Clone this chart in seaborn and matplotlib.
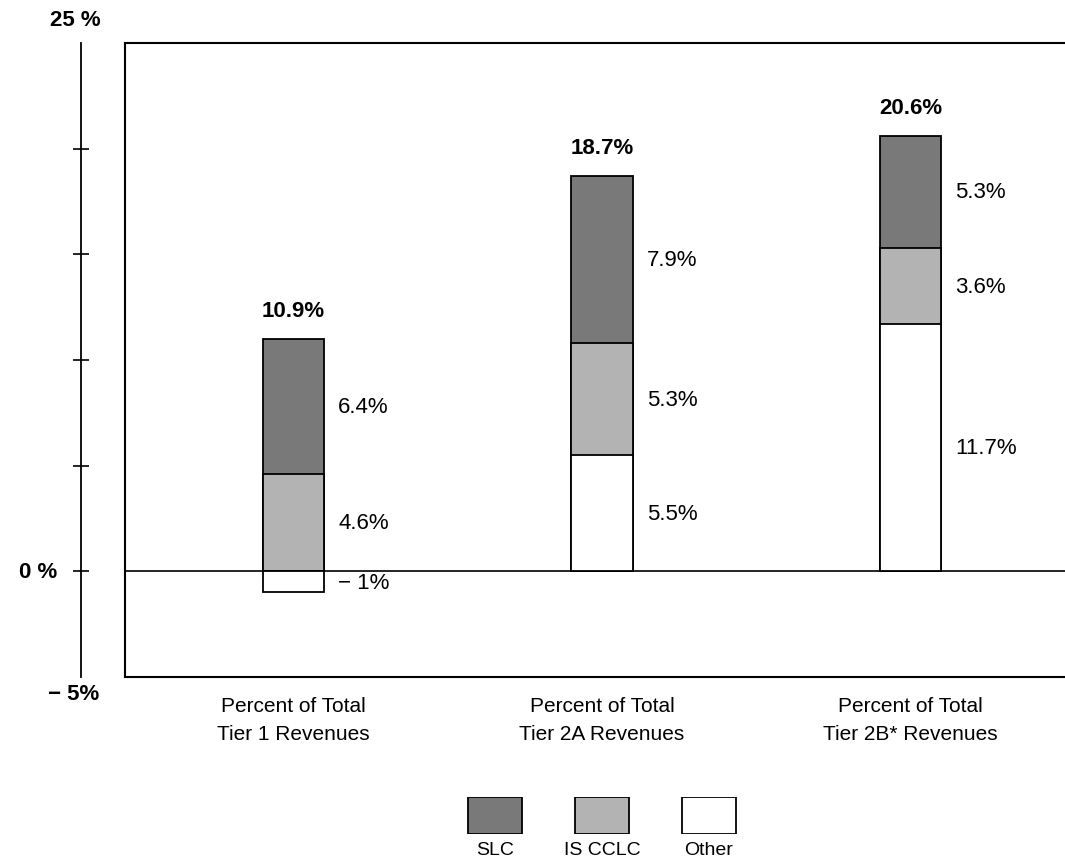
import matplotlib
matplotlib.use("Agg")
import matplotlib.pyplot as plt
import seaborn as sns

# data
tiers = ["Percent of Total\nTier 1 Revenues",
         "Percent of Total\nTier 2A Revenues",
         "Percent of Total\nTier 2B* Revenues"]
series = ["SLC", "IS CCLC", "Other"]
slc = [6.4, 7.9, 5.3]
is_cclc = [4.6, 5.3, 3.6]
other = [-1.0, 5.5, 11.7]
slc_labels = ["6.4%", "7.9%", "5.3%"]
is_labels = ["4.6%", "5.3%", "3.6%"]
other_labels = ["\u2212 1%", "5.5%", "11.7%"]
total_labels = ["10.9%", "18.7%", "20.6%"]
colors = ["#797979", "#b3b3b3", "#ffffff"]

sns.set_style("white")
plt.rcParams["font.family"] = ["Liberation Sans", "DejaVu Sans"]
plt.rcParams["text.color"] = "black"
plt.rcParams["xtick.color"] = "black"
plt.rcParams["xtick.labelcolor"] = "black"

W, H = 1065, 862
fig = plt.figure(figsize=(W / 100, H / 100), dpi=100)
bottom = 1 - 678 / H
height = (678 - 44) / H
ax = fig.add_axes([125 / W, bottom, 1 - 125 / W, height])

# stacked bars: positive parts stack on top of max(other, 0)
base = [max(o, 0) for o in other]
is_top = [b + v for b, v in zip(base, is_cclc)]
slc_top = [t + v for t, v in zip(is_top, slc)]

bar_kw = dict(width=0.2, edgecolor="black", linewidth=1.3, ax=ax, zorder=3)
sns.barplot(x=tiers, y=slc_top, color=colors[0], **bar_kw)
sns.barplot(x=tiers, y=is_top, color=colors[1], **bar_kw)
sns.barplot(x=tiers, y=other, color=colors[2], **bar_kw)

ax.axhline(0, color="black", lw=1.2, zorder=2)

# segment value labels, centred in each segment
for i in range(len(tiers)):
    xt = i + 0.145
    ax.text(xt, (base[i] + is_top[i]) / 2, is_labels[i],
            va="center", ha="left", fontsize=16, zorder=4)
    ax.text(xt, (is_top[i] + slc_top[i]) / 2, slc_labels[i],
            va="center", ha="left", fontsize=16, zorder=4)
    ax.text(xt, other[i] / 2 - (0.05 if other[i] < 0 else 0), other_labels[i],
            va="center", ha="left", fontsize=16, zorder=4)
    ax.annotate(total_labels[i], xy=(i, slc_top[i]), xytext=(0, 13),
                textcoords="offset points", ha="center", va="bottom",
                fontsize=16, fontweight="bold")

ax.set_xlim(-0.546, 2.501)
ax.set_ylim(-5, 25)
ax.set_yticks([])
ax.set_xlabel("")
ax.set_ylabel("")
ax.set_xticks(range(len(tiers)))
ax.set_xticklabels(tiers, fontsize=15, linespacing=1.55)
ax.tick_params(axis="x", length=0, pad=14)
for s in ["top", "left", "bottom"]:
    ax.spines[s].set_linewidth(1.5)
    ax.spines[s].set_color("black")
ax.spines["right"].set_visible(False)

# separate value axis on the left
ax2 = fig.add_axes([81 / W, bottom, 0.0005, height])
ax2.set_ylim(-5, 25)
ax2.patch.set_visible(False)
for s in ["top", "right", "bottom"]:
    ax2.spines[s].set_visible(False)
ax2.spines["left"].set_linewidth(1.3)
ax2.spines["left"].set_color("black")
ax2.set_xticks([])
ax2.set_yticks([0, 5, 10, 15, 20])
ax2.set_yticklabels([])
ax2.tick_params(axis="y", left=True, direction="inout", length=11, width=1.2, color="black")
tr = ax2.get_yaxis_transform()
ax2.annotate("25 %", xy=(0, 25), xycoords=tr, xytext=(-4, 17), textcoords="offset points",
             ha="center", va="center", fontsize=16, fontweight="bold")
ax2.annotate("0 %", xy=(0, 0), xycoords=tr, xytext=(-17, 0), textcoords="offset points",
             ha="right", va="center", fontsize=16, fontweight="bold")
ax2.annotate("\u2212 5%", xy=(0, -5), xycoords=tr, xytext=(-5, -12), textcoords="offset points",
             ha="center", va="center", fontsize=16, fontweight="bold")

# legend drawn as a small bar strip with labels underneath
lax = fig.add_axes([441.5 / W, 1 - 835 / H, 321 / W, 37 / H])
sns.barplot(x=series, y=[1, 1, 1], hue=series, palette=colors, legend=False,
            width=0.51, edgecolor="black", linewidth=1.3, ax=lax)
lax.set_ylim(0, 1)
lax.set_xlim(-0.5, 2.5)
lax.set_yticks([])
lax.set_xlabel("")
lax.set_ylabel("")
lax.tick_params(axis="x", length=0, pad=5, labelsize=14)
sns.despine(ax=lax, left=True, bottom=True)

fig.savefig("out.png", dpi=100)
